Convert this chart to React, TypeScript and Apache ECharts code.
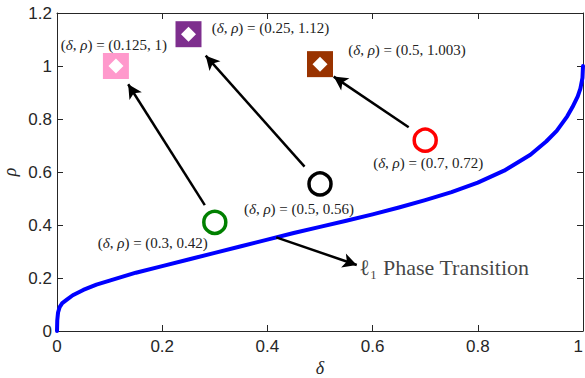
import React, { useEffect, useRef } from "react";
import * as echarts from "echarts";

// Phase transition curve
const curveDelta = [0, 0.0005, 0.002, 0.005, 0.01, 0.02, 0.03, 0.05, 0.075, 0.1, 0.15, 0.2, 0.25, 0.3, 0.35, 0.4, 0.45, 0.5, 0.55, 0.6, 0.65, 0.7, 0.75, 0.8, 0.85, 0.9, 0.93, 0.95, 0.97, 0.98, 0.99, 0.995, 0.999, 1.0];
const curveRho = [0, 0.04, 0.07, 0.09, 0.105, 0.12, 0.135, 0.155, 0.175, 0.19, 0.22, 0.245, 0.27, 0.295, 0.32, 0.345, 0.37, 0.393, 0.416, 0.44, 0.466, 0.494, 0.524, 0.56, 0.605, 0.665, 0.715, 0.755, 0.81, 0.845, 0.885, 0.915, 0.955, 1.0];

// Circle markers
const circleDelta = [0.3, 0.5, 0.7];
const circleRho = [0.41, 0.555, 0.72];
const circleLabels = ["(0.3, 0.42)", "(0.5, 0.56)", "(0.7, 0.72)"];
const circleColors = ["#008000", "#000000", "#ff0000"];

// Square markers
const squareDelta = [0.112, 0.25, 0.5];
const squareRho = [1.0, 1.12, 1.007];
const squareLabels = ["(0.125, 1)", "(0.25, 1.12)", "(0.5, 1.003)"];
const squareColors = ["#ff99cc", "#7e2f8e", "#993300"];

// Arrows
const arrowFrom = [[0.281, 0.475], [0.4706, 0.62], [0.6686, 0.769], [0.4168, 0.3535]];
const arrowTo = [[0.1353, 0.931], [0.2827, 1.039], [0.526, 0.96], [0.5699, 0.249]];

const annotationText = "ℓ₁ Phase Transition";

// label offsets (styling)
const circleOffsets = [[-62, 21], [-21, 25], [3, 23]];
const squareOffsets = [[-2, -21], [82, -6], [87, -14]];

const serif = "'Liberation Serif', 'DejaVu Serif', serif";
const sans = "'Liberation Sans', Arial, Helvetica, sans-serif";

const rich = {
  i: { fontFamily: serif, fontStyle: "italic" as const, fontSize: 15, color: "#222" },
  n: { fontFamily: serif, fontSize: 15, color: "#222" },
};
const mkLabel = (v: string) => `{n|(}{i|δ}{n|, }{i|ρ}{n|) = ${v}}`;

export default function App() {
  const ref = useRef<HTMLDivElement>(null);
  useEffect(() => {
    if (!ref.current) return;
    document.body.style.margin = "0";
    const chart = echarts.init(ref.current, undefined, { renderer: "svg" });
    const axisColor = "#262626";
    const xBase = {
      min: 0,
      max: 1,
      interval: 0.2,
      type: "value" as const,
      splitLine: { show: false },
      axisLine: { show: true, onZero: false, lineStyle: { color: axisColor, width: 1 } },
      axisTick: { show: true, inside: true, length: 6, lineStyle: { color: axisColor } },
    };
    const yBase = {
      min: 0,
      max: 1.2,
      interval: 0.2,
      type: "value" as const,
      splitLine: { show: false },
      axisLine: { show: true, onZero: false, lineStyle: { color: axisColor, width: 1 } },
      axisTick: { show: true, inside: true, length: 6, lineStyle: { color: axisColor } },
    };
    chart.setOption({
      animation: false,
      grid: { left: 57, right: 2, top: 13, bottom: 47, containLabel: false, outerBoundsMode: "none" },
      xAxis: [
        {
          ...xBase,
          position: "bottom",
          axisLabel: { color: axisColor, fontSize: 17, fontFamily: sans, margin: 7, alignMaxLabel: "right" },
          name: "δ",
          nameLocation: "middle",
          nameGap: 28,
          nameMoveOverlap: false,
          nameTextStyle: { fontFamily: serif, fontStyle: "italic", fontSize: 18, color: axisColor },
        },
        { ...xBase, position: "top", axisLabel: { show: false } },
      ],
      yAxis: [
        {
          ...yBase,
          position: "left",
          axisLabel: { color: axisColor, fontSize: 17, fontFamily: sans, margin: 5 },
          name: "ρ",
          nameLocation: "middle",
          nameGap: 38,
          nameMoveOverlap: false,
          nameTextStyle: { fontFamily: serif, fontStyle: "italic", fontSize: 18, color: axisColor },
        },
        { ...yBase, position: "right", axisLabel: { show: false } },
      ],
      series: [
        {
          type: "line",
          data: curveDelta.map((d, i) => [d, curveRho[i]]),
          showSymbol: false,
          symbol: "none",
          lineStyle: { color: "#0000ff", width: 4, cap: "round", join: "round" },
          z: 2,
          markLine: {
            silent: true,
            animation: false,
            symbol: ["none", "arrow"],
            symbolSize: [11, 14],
            label: { show: false },
            lineStyle: { color: "#000", width: 2.5, type: "solid", opacity: 1 },
            data: arrowFrom.map((f, i) => [
              { coord: f, symbol: "none" },
              { coord: arrowTo[i], symbol: "arrow" },
            ]),
          },
        },
        {
          type: "scatter",
          data: circleDelta.map((d, i) => ({
            value: [d, circleRho[i]],
            itemStyle: { color: "rgba(0,0,0,0)", borderColor: circleColors[i], borderWidth: 3.5, opacity: 1 },
            label: {
              show: true,
              position: "inside",
              offset: circleOffsets[i],
              formatter: mkLabel(circleLabels[i]),
              rich,
            },
          })),
          symbol: "circle",
          symbolSize: 22,
          z: 5,
        },
        {
          type: "scatter",
          data: squareDelta.map((d, i) => ({
            value: [d, squareRho[i]],
            itemStyle: { color: squareColors[i], opacity: 1 },
            label: {
              show: true,
              position: "inside",
              offset: squareOffsets[i],
              formatter: mkLabel(squareLabels[i]),
              rich,
            },
          })),
          symbol: "rect",
          symbolSize: 26,
          z: 5,
        },
        {
          type: "scatter",
          data: squareDelta.map((d, i) => [d, squareRho[i]]),
          symbol: "diamond",
          symbolSize: 15,
          itemStyle: { color: "#ffffff", opacity: 1 },
          z: 6,
        },
        {
          type: "scatter",
          data: [arrowTo[3]],
          symbolSize: 1,
          itemStyle: { color: "rgba(0,0,0,0)" },
          label: {
            show: true,
            position: "right",
            distance: 2,
            offset: [0, 2],
            formatter: annotationText,
            fontFamily: serif,
            fontSize: 22,
            color: "#111",
          },
          z: 6,
        },
      ],
    });
    return () => chart.dispose();
  }, []);
  return <div ref={ref} style={{ width: 585, height: 378 }} />;
}
